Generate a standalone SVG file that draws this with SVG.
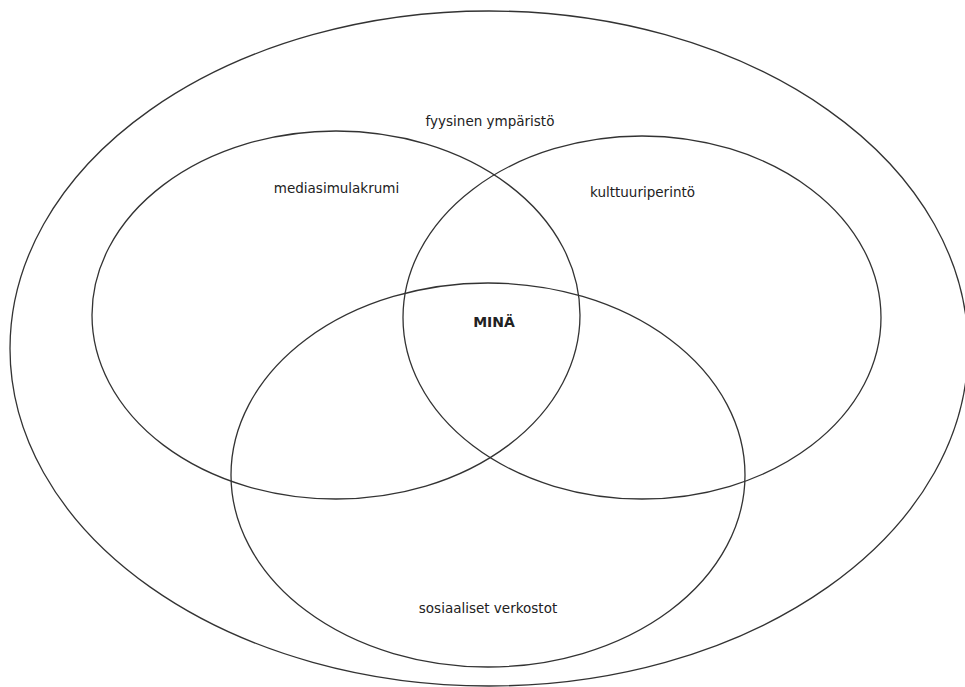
<svg xmlns="http://www.w3.org/2000/svg" width="965" height="687" viewBox="0 0 965 687">
<style>
.c{fill:none;stroke:#333;stroke-width:1.3}
.t{font-family:"DejaVu Sans",Verdana,sans-serif;font-size:13.5px;fill:#222;text-anchor:middle}
.b{font-weight:bold;font-size:14px}
</style>
<rect width="965" height="687" fill="#fff"/>
<g id="outer"><ellipse class="c" cx="489" cy="348.5" rx="479" ry="337.5"/><text class="t" x="490" y="126">fyysinen ympäristö</text></g>
<g id="media"><ellipse class="c" cx="336" cy="315" rx="244" ry="184"/><text class="t" x="336.5" y="193">mediasimulakrumi</text></g>
<g id="kulttuuri"><ellipse class="c" cx="642" cy="317.5" rx="239" ry="181.5"/><text class="t" x="642.5" y="197">kulttuuriperintö</text></g>
<g id="sosiaaliset"><ellipse class="c" cx="488" cy="475" rx="257" ry="192"/><text class="t" x="488" y="613">sosiaaliset verkostot</text></g>
<g id="mina"><text class="t b" x="494" y="327">MINÄ</text></g>
<g id="connectors"/>
</svg>
